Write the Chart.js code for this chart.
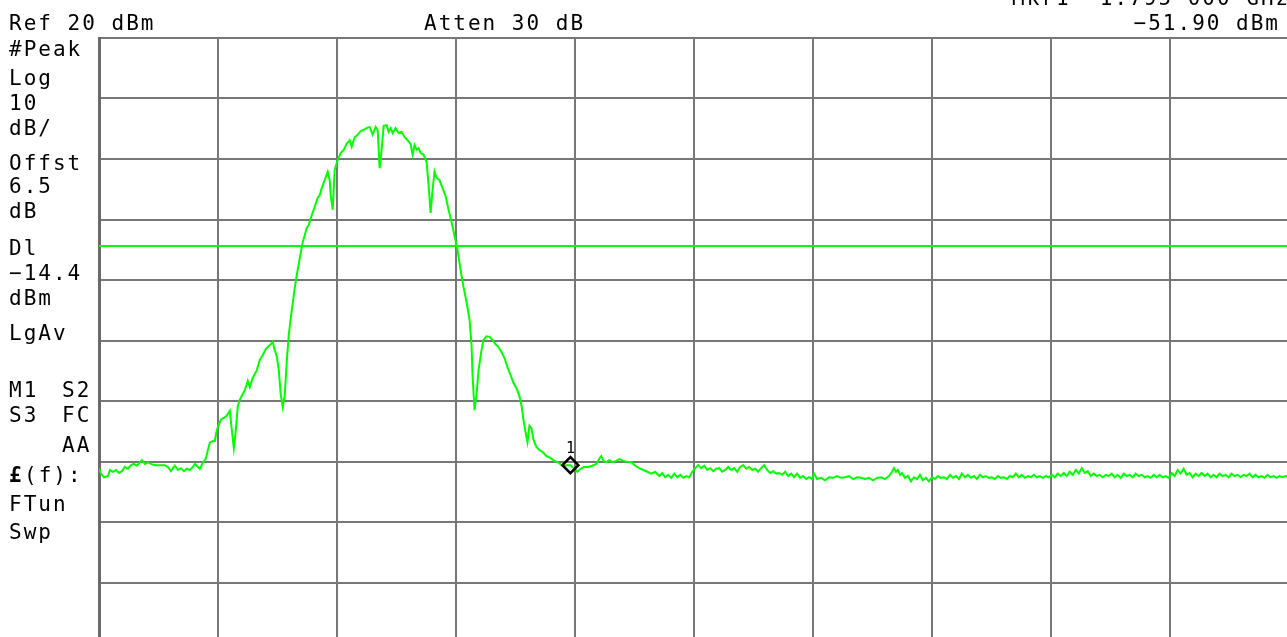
<!DOCTYPE html>
<html><head><meta charset="utf-8">
<script src="https://cdn.jsdelivr.net/npm/chart.js@4.4.1/dist/chart.umd.min.js"></script>
<style>
html,body{margin:0;padding:0;background:#fff;overflow:hidden;width:1287px;height:637px}
#wrap{position:absolute;left:0;top:0;width:1300px;height:660px}
canvas{display:block}
</style></head>
<body><div id="wrap"><canvas id="c" width="1300" height="660"></canvas></div>
<script>
// Trace bins (sweep points) and measured levels in dBm
const traceBins = [0,2,5,9,11,14,17,20,23,26,29,32,35,38,41,43,46,49,52,56,61,66,69,72,74,76,79,82,85,88,91,94,96,99,101,104,107,109,111,114,116,118,120,122,125,128,131,133,135,137,139,141,144,146,149,151,154,158,161,164,167,170,172,174,176,178,180,182,184,186,188,190,192,194,196,198,201,204,206,208,210,213,216,219,221,223,226,229,231,232,234,236,239,242,245,248,251,253,256,259,262,265,268,271,274,277,279,281,283,285,288,290,292,294,297,300,303,306,309,312,314,316,318,320,322,325,328,330,332,334,336,338,341,344,347,350,353,356,359,362,365,368,371,373,374,376,378,380,383,385,388,391,394,397,400,403,406,409,412,415,418,421,423,425,427,429,431,433,435,438,441,444,448,452,456,460,464,468,472,476,479,482,486,490,494,498,501,503,505,508,511,514,518,521,525,529,533,537,541,545,549,553,557,561,564,567,570,573,576,579,582,585,588,591,594,597,600,603,606,609,612,615,618,621,624,627,630,633,636,639,642,645,648,651,654,657,660,663,666,669,672,675,678,681,684,687,690,693,696,699,702,705,708,711,714,716,719,723,727,731,735,739,743,747,751,755,759,763,767,771,775,779,783,787,791,794,796,798,800,802,804,807,810,813,816,819,822,825,828,831,834,837,840,843,846,849,852,855,858,861,864,867,870,873,876,879,882,885,888,891,894,897,900,903,906,909,912,915,918,921,924,927,930,933,936,939,942,945,948,951,954,957,960,963,966,969,972,975,978,981,984,987,990,993,996,999,1002,1005,1008,1011,1014,1017,1020,1023,1026,1029,1032,1035,1038,1041,1044,1047,1050,1053,1056,1059,1062,1065,1068,1071,1074,1077,1080,1083,1086,1089,1092,1095,1098,1101,1104,1107,1110,1113,1116,1119,1122,1125,1128,1131,1134,1137,1140,1143,1146,1149,1152,1155,1158,1161,1164,1167,1170,1173,1176,1179,1182,1185,1188,1192];
const traceDbm = [-51.1,-52.0,-52.6,-52.4,-51.4,-51.7,-51.4,-51.9,-51.6,-50.9,-51.2,-50.6,-50.4,-50.7,-50.1,-49.8,-50.4,-50.1,-50.4,-50.6,-50.6,-50.6,-50.9,-51.6,-51.1,-50.7,-51.4,-51.1,-51.6,-51.2,-51.4,-50.9,-50.4,-50.9,-51.2,-50.2,-49.5,-48.1,-46.9,-46.6,-46.6,-44.8,-44.0,-43.1,-42.8,-42.4,-41.6,-44.8,-47.8,-44.8,-40.8,-39.8,-38.8,-38.2,-36.7,-37.7,-36.2,-34.9,-33.2,-32.4,-31.4,-30.9,-30.6,-30.2,-31.6,-32.6,-34.9,-39.0,-41.0,-39.0,-33.5,-29.1,-26.3,-23.8,-21.3,-19.2,-16.4,-13.7,-12.6,-11.4,-10.9,-9.3,-7.9,-6.4,-6.0,-4.8,-3.5,-2.1,-3.5,-6.0,-8.4,-1.8,-0.2,1.0,1.5,2.5,3.1,2.0,3.6,4.0,4.6,4.8,5.1,5.3,4.0,5.3,4.8,-1.5,1.5,5.5,5.6,4.5,5.1,4.3,5.1,4.3,4.5,3.6,3.1,2.5,0.7,2.3,1.5,1.8,1.0,0.7,-0.5,-4.3,-8.9,-5.1,-2.1,-3.1,-3.5,-4.8,-6.1,-8.4,-10.4,-12.7,-15.0,-18.3,-21.2,-23.6,-26.6,-30.7,-35.7,-41.5,-39.0,-34.9,-31.6,-29.9,-29.3,-29.4,-29.9,-30.6,-31.1,-31.9,-32.9,-34.4,-35.7,-37.0,-37.9,-39.2,-40.7,-43.1,-45.1,-46.8,-44.1,-44.5,-46.4,-47.6,-48.1,-48.4,-49.1,-49.4,-49.9,-50.2,-50.7,-50.6,-50.6,-51.2,-51.7,-51.2,-50.9,-50.9,-50.7,-50.4,-49.5,-49.1,-49.9,-50.1,-49.8,-50.1,-49.9,-49.6,-49.9,-50.1,-50.1,-50.7,-51.1,-51.4,-51.7,-52.0,-51.7,-52.4,-51.9,-52.6,-52.2,-52.7,-52.0,-52.6,-52.2,-52.7,-52.4,-52.6,-51.7,-51.1,-50.6,-51.1,-50.7,-51.4,-51.1,-51.6,-51.2,-51.1,-51.7,-51.4,-50.9,-51.4,-51.1,-51.7,-50.9,-50.6,-51.2,-50.9,-51.4,-51.2,-51.7,-51.1,-50.6,-51.4,-51.9,-51.6,-52.0,-51.9,-52.2,-51.7,-52.4,-52.0,-52.6,-52.0,-52.7,-52.4,-52.9,-52.6,-52.9,-52.0,-52.9,-52.7,-53.1,-52.6,-52.7,-52.4,-52.7,-52.6,-52.4,-52.9,-52.6,-52.7,-52.9,-52.7,-53.1,-52.7,-52.6,-52.9,-52.4,-51.7,-51.1,-51.7,-51.4,-52.2,-51.9,-52.7,-52.4,-53.3,-52.6,-52.9,-52.2,-53.1,-52.7,-53.3,-52.6,-52.9,-52.4,-52.7,-52.6,-52.9,-52.2,-52.7,-52.4,-52.9,-52.0,-52.6,-52.2,-52.7,-52.4,-52.9,-52.2,-52.6,-52.4,-52.7,-52.6,-52.9,-52.4,-52.7,-52.6,-52.9,-52.4,-52.6,-52.0,-52.6,-52.2,-52.7,-52.4,-52.6,-52.2,-52.6,-52.4,-52.7,-52.4,-52.6,-52.2,-52.6,-52.0,-52.4,-51.9,-52.4,-51.7,-52.2,-51.4,-52.0,-51.1,-51.9,-51.6,-52.4,-52.0,-52.4,-52.2,-52.6,-52.2,-52.4,-52.0,-52.6,-52.2,-52.7,-52.0,-52.4,-52.2,-52.6,-52.0,-52.4,-52.2,-52.6,-52.4,-52.7,-52.2,-52.6,-52.2,-52.6,-52.4,-52.7,-51.9,-52.4,-51.4,-52.0,-51.2,-52.2,-51.9,-52.6,-52.0,-52.4,-51.9,-52.4,-52.0,-52.6,-52.2,-52.6,-52.0,-52.4,-52.2,-52.6,-52.0,-52.4,-52.2,-52.6,-52.2,-52.4,-52.0,-52.6,-52.2,-52.6,-52.4,-52.7,-52.2,-52.6,-52.4,-52.7,-52.4,-52.6,-52.4,-52.6];
const xGridBins = [0,119.2,238.4,357.6,476.8,596,715.2,834.4,953.6,1072.8,1192];
const yGridDbm = [20,10,0,-10,-20,-30,-40,-50,-60,-70,-80];
const displayLineDbm = -14.4;
const markerBin = 472;
const markerDbm = -50.6;
const markerLabel = "1";
const headerLeft = "Ref 20 dBm";
const headerMid = "Atten 30 dB";
const headerRight1 = "Mkr1  1.795 000 GHz";
const headerRight2 = "\u221251.90 dBm";
const sideLabels = [
  ["#Peak", 56], ["Log", 85], ["10", 110], ["dB/", 135], ["Offst", 170], ["6.5", 193], ["dB", 218],
  ["Dl", 255], ["\u221214.4", 280], ["dBm", 305], ["LgAv", 340],
  ["M1", 397], ["S3", 422], ["FTun", 511], ["Swp", 539]
];
const sideRight = [["S2", 397], ["FC", 422], ["AA", 452]];

const GREEN = '#00ff00';
const GRID = '#777777';
const FONT = '"DejaVu Sans Mono"';

const textPlugin = {
  id: 'annot',
  afterDraw(chart) {
    const ctx = chart.ctx;
    ctx.save();
    ctx.fillStyle = '#000';
    ctx.textBaseline = 'alphabetic';
    ctx.font = '21px ' + FONT;
    ctx.letterSpacing = '2px';
    ctx.textAlign = 'left';
    ctx.fillText(headerLeft, 9, 30);
    ctx.fillText(headerMid, 424, 30);
    ctx.fillText(headerRight1, 1012, 5);
    ctx.textAlign = 'right';
    ctx.fillText(headerRight2, 1280, 30);
    ctx.textAlign = 'left';
    sideLabels.forEach(([t, y]) => ctx.fillText(t, 9, y));
    sideRight.forEach(([t, y]) => ctx.fillText(t, 62, y));
    ctx.font = 'bold 21px ' + FONT;
    ctx.fillText('\u00a3', 9, 482);
    ctx.font = '21px ' + FONT;
    ctx.fillText('(f):', 24, 482);
    const xs = chart.scales.x, ys = chart.scales.y;
    const mx = xs.getPixelForValue(markerBin), my = ys.getPixelForValue(markerDbm);
    ctx.font = '15px ' + FONT;
    ctx.letterSpacing = '0px';
    ctx.textAlign = 'center';
    ctx.fillText(markerLabel, mx, my - 12);
    ctx.restore();
  }
};

new Chart(document.getElementById('c'), {
  type: 'line',
  data: {
    datasets: [
      {
        data: traceBins.map((b, i) => ({x: b, y: traceDbm[i]})),
        borderColor: GREEN, borderWidth: 2, pointRadius: 0, tension: 0, order: 2
      },
      {
        data: [{x: xGridBins[0], y: displayLineDbm}, {x: xGridBins[xGridBins.length - 1], y: displayLineDbm}],
        borderColor: GREEN, borderWidth: 2, pointRadius: 0, order: 3
      },
      {
        type: 'scatter',
        data: [{x: markerBin, y: markerDbm}],
        pointStyle: 'rectRot', pointRadius: 8, borderColor: '#000', borderWidth: 2.5,
        backgroundColor: 'rgba(0,0,0,0)', order: 1
      }
    ]
  },
  options: {
    responsive: false, animation: false, devicePixelRatio: 1,
    layout: {padding: {left: 99, top: 38, right: 9, bottom: 17}},
    plugins: {legend: {display: false}, tooltip: {enabled: false}},
    scales: {
      x: {
        type: 'linear', min: xGridBins[0], max: xGridBins[xGridBins.length - 1],
        afterBuildTicks: s => { s.ticks = xGridBins.map(v => ({value: v})); },
        ticks: {display: false},
        grid: {color: GRID, lineWidth: 2, drawTicks: false},
        border: {display: true, color: GRID, width: 2}
      },
      y: {
        type: 'linear', min: yGridDbm[yGridDbm.length - 1], max: yGridDbm[0],
        afterBuildTicks: s => { s.ticks = yGridDbm.map(v => ({value: v})); },
        ticks: {display: false},
        grid: {color: GRID, lineWidth: 2, drawTicks: false},
        border: {display: true, color: '#6a6a6a', width: 3}
      }
    }
  },
  plugins: [textPlugin]
});
</script>
</body></html>
